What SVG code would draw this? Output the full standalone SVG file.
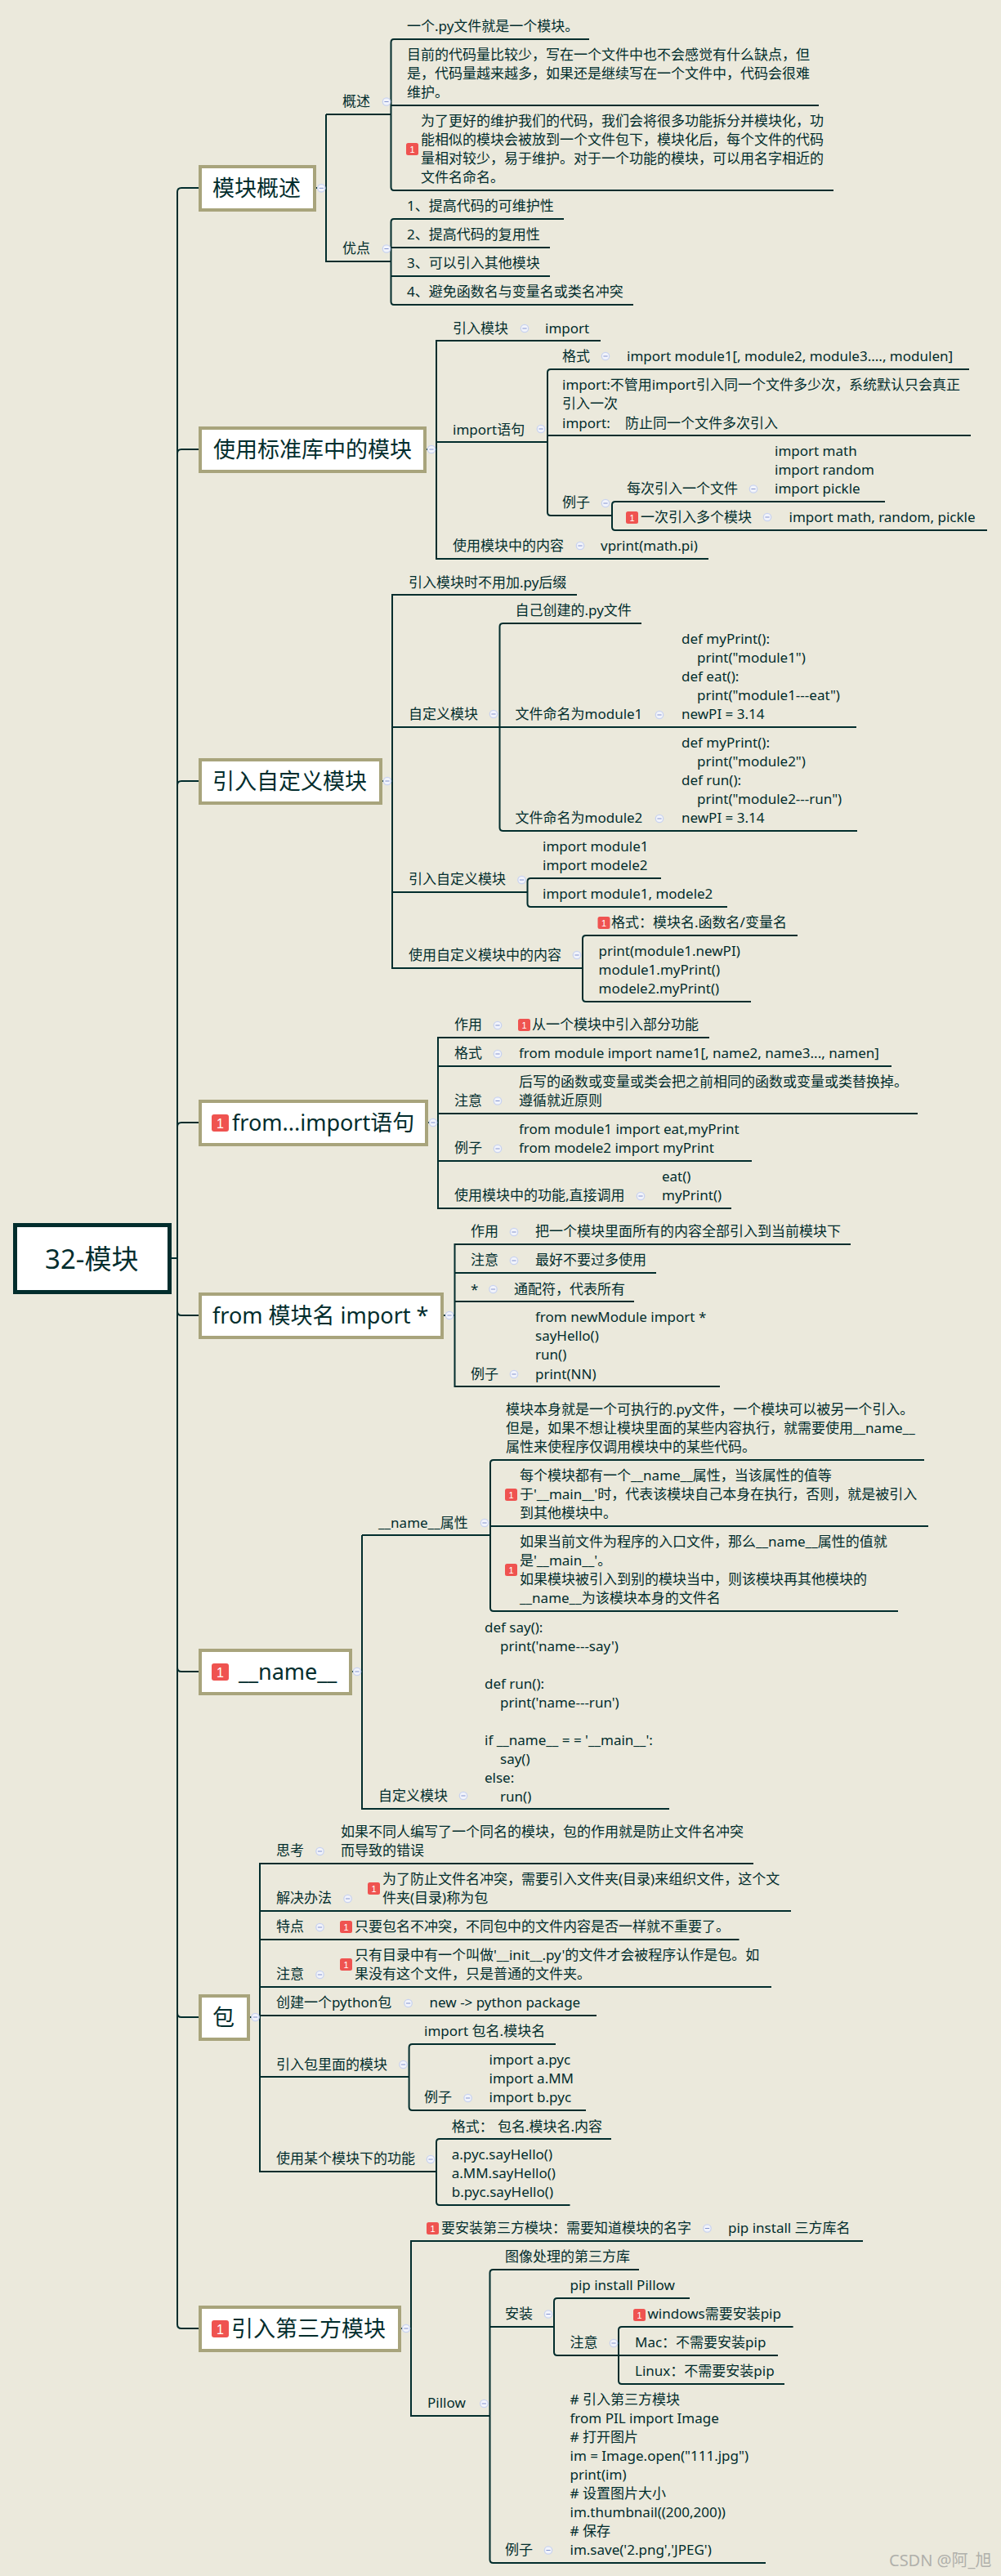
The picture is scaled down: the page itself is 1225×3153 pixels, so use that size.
<svg xmlns="http://www.w3.org/2000/svg" width="1225" height="3153" viewBox="0 0 1225 3153">
<style>
text{font-family:"Noto Sans","Noto Sans CJK SC",sans-serif;fill:#022d2d;font-size:17px}
.m{font-size:33px}
.tt{font-size:27px}
.box{fill:#fff;stroke:#a8a47c;stroke-width:4}
.root{fill:#fff;stroke:#022d2d;stroke-width:5}
.ln{fill:none;stroke:#022d2d;stroke-width:2}
.ic{fill:#ef5350}
.in{fill:#fff;font-size:11px;font-family:"Liberation Sans",sans-serif;text-anchor:middle}
.inb{fill:#fff;font-size:16px;font-family:"Liberation Sans",sans-serif;text-anchor:middle}
.wm{fill:#b0b0ab;font-size:20px}
</style>
<defs>
<g id="c"><circle r="4.7" fill="#f2f4fb" stroke="#c9d3f0" stroke-width="1.3"/><path d="M-2.6 0H2.6" stroke="#8494cf" stroke-width="1"/></g>
<g id="i"><rect width="15" height="15" rx="2.5" class="ic"/><text x="7.5" y="12" class="in">1</text></g>
<g id="ib"><rect width="21" height="21" rx="3" class="ic"/><text x="10.5" y="16.5" class="inb">1</text></g>
</defs>
<rect width="1225" height="3153" fill="#ebe9dc"/>
<g id="connectors">
<path class="ln" d="M210 1540H217M243 230H222Q217 230 217 235V2845Q217 2850 222 2850H243M243 550H222Q217 550 217 555M243 956H222Q217 956 217 961M243 1374H222Q217 1374 217 1379M243 1610H222Q217 1610 217 1605M243 2046H222Q217 2046 217 2041M243 2469H222Q217 2469 217 2464"/>
<!-- topic 1 -->
<path class="ln" d="M387 230H399M721 48H482Q478.500 48 478.500 52V229Q478.500 233 482 233H1020M1002 129H478.500M399 140H478.500M399 140V320H478.500M690 268H482Q478.500 268 478.500 272V369Q478.500 373 482 373H775M673 303H478.500M673 338H478.500"/>
<!-- topic 2 -->
<path class="ln" d="M522 550H534M735 417H534V684H867M534 541H670M1186 452H674Q670 452 670 456V627Q670 631 674 631H749M1188 533H670M1083 614H753Q749 614 749 618V645Q749 649 753 649H1208"/>
<!-- topic 3 -->
<path class="ln" d="M468 956H480M706 728H480V1185H713M480 890H1048M785 763H615.500Q611.500 763 611.500 767V1013Q611.500 1017 615.500 1017H1049M480 1092H645.500M809 1075H649.500Q645.500 1075 645.500 1079V1106Q645.500 1110 649.500 1110H890M976 1145H717Q713 1145 713 1149V1222Q713 1226 717 1226H919"/>
<!-- topic 4 -->
<path class="ln" d="M524 1374H536M868 1270H536V1479H895M536 1305H1091M536 1363H1123M536 1421H920"/>
<!-- topic 5 -->
<path class="ln" d="M543 1610H556.500M1041 1523H556.500V1697H881M556.500 1558H803M556.500 1593H776"/>
<!-- topic 6 -->
<path class="ln" d="M431 2046H443M443 1879H600M443 1879V2214H819M1131 1787H604Q600 1787 600 1791V1968Q600 1972 604 1972H1099M1136 1868H600"/>
<!-- topic 7 -->
<path class="ln" d="M306 2469H318M922 2281H318V2658H534M318 2339H968M318 2374H904.500M318 2432H944M318 2467H730M318 2542H500.600M680 2502H504.600Q500.600 2502 500.600 2506V2579Q500.600 2583 504.600 2583H717M748 2618H538Q534 2618 534 2622V2695Q534 2699 538 2699H697.500"/>
<!-- topic 8 -->
<path class="ln" d="M491 2850H503M1056 2743H503V2957H599.500M782 2778H603.500Q599.500 2778 599.500 2782V3133Q599.500 3137 603.500 3137H937M599.500 2848H678M844 2813H682Q678 2813 678 2817V2879Q678 2883 682 2883H757M970.600 2848H761Q757 2848 757 2852V2914Q757 2918 761 2918H960M952 2883H757"/>
<!-- collapse markers -->
<use href="#c" x="393.300" y="230.300"/><use href="#c" x="473" y="124.500"/><use href="#c" x="473" y="304.500"/>
<use href="#c" x="528" y="550"/><use href="#c" x="642" y="402"/><use href="#c" x="662" y="525"/><use href="#c" x="741" y="436"/><use href="#c" x="741" y="616"/><use href="#c" x="922" y="598.500"/><use href="#c" x="939" y="633"/><use href="#c" x="710" y="668"/>
<use href="#c" x="474" y="956"/><use href="#c" x="604" y="874"/><use href="#c" x="807" y="875"/><use href="#c" x="807" y="1002"/><use href="#c" x="638.500" y="1077"/><use href="#c" x="706" y="1169"/>
<use href="#c" x="530" y="1374"/><use href="#c" x="609" y="1255"/><use href="#c" x="609" y="1290"/><use href="#c" x="609" y="1347.500"/><use href="#c" x="609" y="1406"/><use href="#c" x="784" y="1464"/>
<use href="#c" x="550" y="1610"/><use href="#c" x="629" y="1508"/><use href="#c" x="629" y="1543"/><use href="#c" x="603.500" y="1578"/><use href="#c" x="629" y="1682"/>
<use href="#c" x="437" y="2046"/><use href="#c" x="593" y="1864"/><use href="#c" x="567" y="2198"/>
<use href="#c" x="312.500" y="2469"/><use href="#c" x="391.500" y="2266"/><use href="#c" x="425.600" y="2324"/><use href="#c" x="391.500" y="2359"/><use href="#c" x="391.500" y="2417"/><use href="#c" x="499.600" y="2452"/><use href="#c" x="493.500" y="2527"/><use href="#c" x="572.600" y="2568"/><use href="#c" x="527" y="2643"/>
<use href="#c" x="497" y="2850"/><use href="#c" x="865.500" y="2727.500"/><use href="#c" x="592.400" y="2942"/><use href="#c" x="671" y="2832.500"/><use href="#c" x="751" y="2868"/><use href="#c" x="671" y="3121.500"/>
</g>
<g id="root"><rect class="root" x="18.500" y="1499.500" width="189" height="82"/><text class="m" x="55" y="1553">32-模块</text></g>

<g id="topic1"><rect class="box" x="245" y="204" width="140" height="53"/><text class="tt" x="260" y="240">模块概述</text></g>
<g id="n1-1"><text x="419" y="130">概述</text></g>
<g id="n1-1-1"><text x="498" y="38">一个.py文件就是一个模块。</text></g>
<g id="n1-1-2"><text x="498" y="73">目前的代码量比较少，写在一个文件中也不会感觉有什么缺点，但</text><text x="498" y="96">是，代码量越来越多，如果还是继续写在一个文件中，代码会很难</text><text x="498" y="119">维护。</text></g>
<g id="n1-1-3"><use href="#i" x="497" y="175"/><text x="515" y="154">为了更好的维护我们的代码，我们会将很多功能拆分并模块化，功</text><text x="515" y="177">能相似的模块会被放到一个文件包下，模块化后，每个文件的代码</text><text x="515" y="200">量相对较少，易于维护。对于一个功能的模块，可以用名字相近的</text><text x="515" y="223">文件名命名。</text></g>
<g id="n1-2"><text x="419" y="310">优点</text></g>
<g id="n1-2-1"><text x="498" y="258">1、提高代码的可维护性</text></g>
<g id="n1-2-2"><text x="498" y="293">2、提高代码的复用性</text></g>
<g id="n1-2-3"><text x="498" y="328">3、可以引入其他模块</text></g>
<g id="n1-2-4"><text x="498" y="363">4、避免函数名与变量名或类名冲突</text></g>

<g id="topic2"><rect class="box" x="245" y="524" width="275" height="53"/><text class="tt" x="261" y="560">使用标准库中的模块</text></g>
<g id="n2-1"><text x="554" y="408">引入模块</text><text x="667" y="408">import</text></g>
<g id="n2-2"><text x="554" y="532">import语句</text></g>
<g id="n2-2-1"><text x="688" y="442">格式</text><text x="767" y="442">import module1[, module2, module3...., modulen]</text></g>
<g id="n2-2-2"><text x="688" y="477">import:不管用import引入同一个文件多少次，系统默认只会真正</text><text x="688" y="500">引入一次</text><text x="688" y="524">import:<tspan x="765">防止同一个文件多次引入</tspan></text></g>
<g id="n2-2-3"><text x="688" y="621">例子</text></g>
<g id="n2-2-3-1"><text x="767" y="604">每次引入一个文件</text><text x="948" y="558">import math</text><text x="948" y="581">import random</text><text x="948" y="604">import pickle</text></g>
<g id="n2-2-3-2"><use href="#i" x="766" y="626"/><text x="784" y="639">一次引入多个模块</text><text x="965.500" y="639">import math, random, pickle</text></g>
<g id="n2-3"><text x="554" y="674">使用模块中的内容</text><text x="735" y="674">vprint(math.pi)</text></g>

<g id="topic3"><rect class="box" x="245" y="930" width="221" height="53"/><text class="tt" x="260" y="966">引入自定义模块</text></g>
<g id="n3-1"><text x="500" y="719">引入模块时不用加.py后缀</text></g>
<g id="n3-2"><text x="500" y="880">自定义模块</text></g>
<g id="n3-2-1"><text x="630.500" y="753">自己创建的.py文件</text></g>
<g id="n3-2-2"><text x="630.500" y="880">文件命名为module1</text><text x="834" y="788">def myPrint():</text><text x="853" y="811">print("module1")</text><text x="834" y="834">def eat():</text><text x="853" y="857">print("module1---eat")</text><text x="834" y="880">newPI = 3.14</text></g>
<g id="n3-2-3"><text x="630.500" y="1007">文件命名为module2</text><text x="834" y="915">def myPrint():</text><text x="853" y="938">print("module2")</text><text x="834" y="961">def run():</text><text x="853" y="984">print("module2---run")</text><text x="834" y="1007">newPI = 3.14</text></g>
<g id="n3-3"><text x="500" y="1082">引入自定义模块</text></g>
<g id="n3-3-1"><text x="664" y="1042">import module1</text><text x="664" y="1065">import modele2</text></g>
<g id="n3-3-2"><text x="664" y="1100">import module1, modele2</text></g>
<g id="n3-4"><text x="500" y="1175">使用自定义模块中的内容</text></g>
<g id="n3-4-1"><use href="#i" x="731.500" y="1122"/><text x="748" y="1135">格式：模块名.函数名/变量名</text></g>
<g id="n3-4-2"><text x="732.500" y="1170">print(module1.newPI)</text><text x="732.500" y="1193">module1.myPrint()</text><text x="732.500" y="1216">modele2.myPrint()</text></g>

<g id="topic4"><rect class="box" x="245" y="1348" width="277" height="53"/><use href="#ib" x="259" y="1364"/><text class="tt" x="284" y="1384">from...import语句</text></g>
<g id="n4-1"><text x="556" y="1260">作用</text><use href="#i" x="634" y="1247"/><text x="651" y="1260">从一个模块中引入部分功能</text></g>
<g id="n4-2"><text x="556" y="1295">格式</text><text x="635" y="1295">from module import name1[, name2, name3..., namen]</text></g>
<g id="n4-3"><text x="556" y="1353">注意</text><text x="635" y="1330">后写的函数或变量或类会把之前相同的函数或变量或类替换掉。</text><text x="635" y="1353">遵循就近原则</text></g>
<g id="n4-4"><text x="556" y="1411">例子</text><text x="635" y="1388">from module1 import eat,myPrint</text><text x="635" y="1411">from modele2 import myPrint</text></g>
<g id="n4-5"><text x="556" y="1469">使用模块中的功能,直接调用</text><text x="810" y="1446">eat()</text><text x="810" y="1469">myPrint()</text></g>

<g id="topic5"><rect class="box" x="245" y="1584" width="296" height="53"/><text class="tt" x="260" y="1620">from 模块名 import *</text></g>
<g id="n5-1"><text x="576" y="1513">作用</text><text x="655" y="1513">把一个模块里面所有的内容全部引入到当前模块下</text></g>
<g id="n5-2"><text x="576" y="1548">注意</text><text x="655" y="1548">最好不要过多使用</text></g>
<g id="n5-3"><text x="576" y="1584">*</text><text x="629" y="1584">通配符，代表所有</text></g>
<g id="n5-4"><text x="576" y="1688">例子</text><text x="655" y="1618">from newModule import *</text><text x="655" y="1641">sayHello()</text><text x="655" y="1664">run()</text><text x="655" y="1688">print(NN)</text></g>

<g id="topic6"><rect class="box" x="245" y="2020" width="184" height="53"/><use href="#ib" x="259" y="2036"/><text class="tt" x="292" y="2056">__name__</text></g>
<g id="n6-1"><text x="463" y="1870">__name__属性</text></g>
<g id="n6-1-1"><text x="619" y="1731">模块本身就是一个可执行的.py文件，一个模块可以被另一个引入。</text><text x="619" y="1754">但是，如果不想让模块里面的某些内容执行，就需要使用__name__</text><text x="619" y="1777">属性来使程序仅调用模块中的某些代码。</text></g>
<g id="n6-1-2"><use href="#i" x="618" y="1822"/><text x="636" y="1812">每个模块都有一个__name__属性，当该属性的值等</text><text x="636" y="1835">于'__main__'时，代表该模块自己本身在执行，否则，就是被引入</text><text x="636" y="1858">到其他模块中。</text></g>
<g id="n6-1-3"><use href="#i" x="618" y="1914"/><text x="636" y="1893">如果当前文件为程序的入口文件，那么__name__属性的值就</text><text x="636" y="1916">是'__main__'。</text><text x="636" y="1939">如果模块被引入到别的模块当中，则该模块再其他模块的</text><text x="636" y="1962">__name__为该模块本身的文件名</text></g>
<g id="n6-2"><text x="463" y="2204">自定义模块</text><text x="593" y="1998">def say():</text><text x="612" y="2021">print('name---say')</text><text x="593" y="2067">def run():</text><text x="612" y="2090">print('name---run')</text><text x="593" y="2136">if __name__ = = '__main__':</text><text x="612" y="2159">say()</text><text x="593" y="2182">else:</text><text x="612" y="2205">run()</text></g>

<g id="topic7"><rect class="box" x="245" y="2443" width="59" height="53"/><text class="tt" x="260" y="2479">包</text></g>
<g id="n7-1"><text x="338" y="2271">思考</text><text x="417" y="2248">如果不同人编写了一个同名的模块，包的作用就是防止文件名冲突</text><text x="417" y="2271">而导致的错误</text></g>
<g id="n7-2"><text x="338" y="2329">解决办法</text><use href="#i" x="450" y="2304"/><text x="468" y="2306">为了防止文件名冲突，需要引入文件夹(目录)来组织文件，这个文</text><text x="468" y="2329">件夹(目录)称为包</text></g>
<g id="n7-3"><text x="338" y="2364">特点</text><use href="#i" x="416" y="2351"/><text x="434" y="2364">只要包名不冲突，不同包中的文件内容是否一样就不重要了。</text></g>
<g id="n7-4"><text x="338" y="2422">注意</text><use href="#i" x="416" y="2397"/><text x="434" y="2399">只有目录中有一个叫做'__init__.py'的文件才会被程序认作是包。如</text><text x="434" y="2422">果没有这个文件，只是普通的文件夹。</text></g>
<g id="n7-5"><text x="338" y="2457">创建一个python包</text><text x="525.600" y="2457">new -&gt; python package</text></g>
<g id="n7-6"><text x="338" y="2533">引入包里面的模块</text></g>
<g id="n7-6-1"><text x="519" y="2492">import 包名.模块名</text></g>
<g id="n7-6-2"><text x="519" y="2573">例子</text><text x="598.500" y="2527">import a.pyc</text><text x="598.500" y="2550">import a.MM</text><text x="598.500" y="2573">import b.pyc</text></g>
<g id="n7-7"><text x="338" y="2648">使用某个模块下的功能</text></g>
<g id="n7-7-1"><text x="552.700" y="2609">格式：<tspan x="609">包名.模块名.内容</tspan></text></g>
<g id="n7-7-2"><text x="552.700" y="2643">a.pyc.sayHello()</text><text x="552.700" y="2666">a.MM.sayHello()</text><text x="552.700" y="2689">b.pyc.sayHello()</text></g>

<g id="topic8"><rect class="box" x="245" y="2824" width="244" height="53"/><use href="#ib" x="259" y="2840"/><text class="tt" x="283" y="2860">引入第三方模块</text></g>
<g id="n8-1"><use href="#i" x="522" y="2720"/><text x="540" y="2733">要安装第三方模块：需要知道模块的名字</text><text x="891" y="2733">pip install 三方库名</text></g>
<g id="n8-2"><text x="523" y="2947">Pillow</text></g>
<g id="n8-2-1"><text x="618" y="2768">图像处理的第三方库</text></g>
<g id="n8-2-2"><text x="618" y="2838">安装</text></g>
<g id="n8-2-2-1"><text x="697.500" y="2803">pip install Pillow</text></g>
<g id="n8-2-2-2"><text x="697.500" y="2873">注意</text></g>
<g id="n8-2-2-2-1"><use href="#i" x="775" y="2826"/><text x="792.500" y="2838">windows需要安装pip</text></g>
<g id="n8-2-2-2-2"><text x="777" y="2873">Mac：不需要安装pip</text></g>
<g id="n8-2-2-2-3"><text x="777" y="2908">Linux：不需要安装pip</text></g>
<g id="n8-2-3"><text x="618" y="3127">例子</text><text x="697.500" y="2943"># 引入第三方模块</text><text x="697.500" y="2966">from PIL import Image</text><text x="697.500" y="2989"># 打开图片</text><text x="697.500" y="3012">im = Image.open("111.jpg")</text><text x="697.500" y="3035">print(im)</text><text x="697.500" y="3058"># 设置图片大小</text><text x="697.500" y="3081">im.thumbnail((200,200))</text><text x="697.500" y="3104"># 保存</text><text x="697.500" y="3127">im.save('2.png','JPEG')</text></g>
<text class="wm" x="1088" y="3141">CSDN @阿_旭</text>
</svg>
